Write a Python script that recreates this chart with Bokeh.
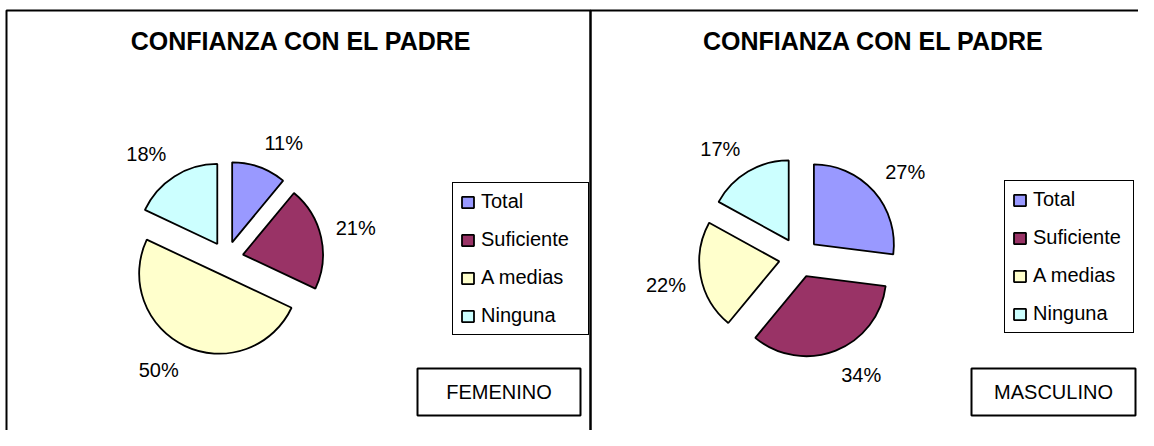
import math
from bokeh.plotting import figure
from bokeh.models import ColumnDataSource, Range1d, Legend, LegendItem, BoxAnnotation, Label
from bokeh.core.properties import value
from bokeh.embed import file_html
from bokeh.resources import INLINE

# ---------------- data ----------------
chart_title = "CONFIANZA CON EL PADRE"
categories = ["Total", "Suficiente", "A medias", "Ninguna"]
femenino = [11, 21, 50, 18]
masculino = [27, 34, 22, 17]
panel_names = ["FEMENINO", "MASCULINO"]

# ---------------- style / layout ----------------
colors = ["#9999FF", "#993366", "#FFFFCC", "#CCFFFF"]
FONT = "Liberation Sans"
W, H = 1138, 430
R = 80  # pie radius (px)

layout = [
    dict(left=6, right=590, cx=225.9, cy=172.2, explode=17, title_x=300.8,
         legend_x=452, legend_y=95, label_w=100, box=(417, 580), name_x=498.5),
    dict(left=590, right=1200, cx=798.4, cy=172.9, explode=20, title_x=873,
         legend_x=1004, legend_y=97, label_w=93, box=(971, 1135), name_x=1053),
]

p = figure(width=W, height=H, x_range=Range1d(0, W), y_range=Range1d(0, H),
           output_backend="svg", toolbar_location=None, min_border=0)
p.axis.visible = False
p.grid.visible = False
p.outline_line_color = None
p.background_fill_color = "white"
p.border_fill_color = "white"


def s(t):
    return max(-1.0, min(1.0, t / 0.35))


for vals, name, lay in zip([femenino, masculino], panel_names, layout):
    # panel frame
    p.add_layout(BoxAnnotation(left=lay["left"], right=lay["right"], top=420, bottom=-20,
                               fill_color=None, fill_alpha=0, line_color="black",
                               line_alpha=1.0, line_width=2))

    total = float(sum(vals))
    cum = 0.0
    d = dict(x=[], y=[], start=[], end=[], color=[], lx=[], ly=[], txt=[])
    for v, c in zip(vals, colors):
        a1 = cum / total * 360.0
        cum += v
        a2 = cum / total * 360.0
        mid = math.radians((a1 + a2) / 2.0)
        ux, uy = math.sin(mid), math.cos(mid)
        ex = lay["explode"]
        d["x"].append(lay["cx"] + ex * ux)
        d["y"].append(lay["cy"] + ex * uy)
        d["start"].append(math.radians(90 - a2))
        d["end"].append(math.radians(90 - a1))
        d["color"].append(c)
        ra = R + ex + 15
        d["lx"].append(lay["cx"] + ra * ux + 20 * s(ux))
        d["ly"].append(lay["cy"] + ra * uy + 10 * s(uy))
        d["txt"].append(f"{round(v / total * 100)}%")
    src = ColumnDataSource(d)

    r = p.wedge(x="x", y="y", radius=R, start_angle="start", end_angle="end",
                direction="anticlock", fill_color="color", line_color="black",
                line_width=1.8, source=src)
    p.text(x="lx", y="ly", text="txt", text_align="center", text_baseline="middle",
           text_font=value(FONT), text_font_size="20px", text_color="black", source=src)

    # title
    p.add_layout(Label(x=lay["title_x"], y=389.5, text=chart_title, text_align="center",
                       text_baseline="middle", text_font=FONT, text_font_style="bold",
                       text_font_size="25px", text_color="black"))

    # legend
    items = [LegendItem(label=cat, renderers=[r], index=i) for i, cat in enumerate(categories)]
    leg = Legend(items=items, location=(lay["legend_x"], lay["legend_y"]),
                 border_line_color="black", border_line_width=1, border_line_alpha=1.0,
                 background_fill_color="white", background_fill_alpha=1.0,
                 label_text_font=FONT, label_text_font_size="20px", label_text_color="black",
                 glyph_width=15, glyph_height=14, label_standoff=6, padding=7,
                 spacing=15, label_height=22, label_width=lay["label_w"], margin=0)
    p.add_layout(leg)

    # gender box
    b0, b1 = lay["box"]
    p.add_layout(BoxAnnotation(left=b0, right=b1, top=62, bottom=15, fill_color="white",
                               fill_alpha=1.0, line_color="black", line_alpha=1.0,
                               line_width=2))
    p.add_layout(Label(x=lay["name_x"], y=39, text=name, text_align="center",
                       text_baseline="middle", text_font=FONT, text_font_size="20px",
                       text_color="black"))

open("out.html", "w").write(file_html(p, INLINE))
